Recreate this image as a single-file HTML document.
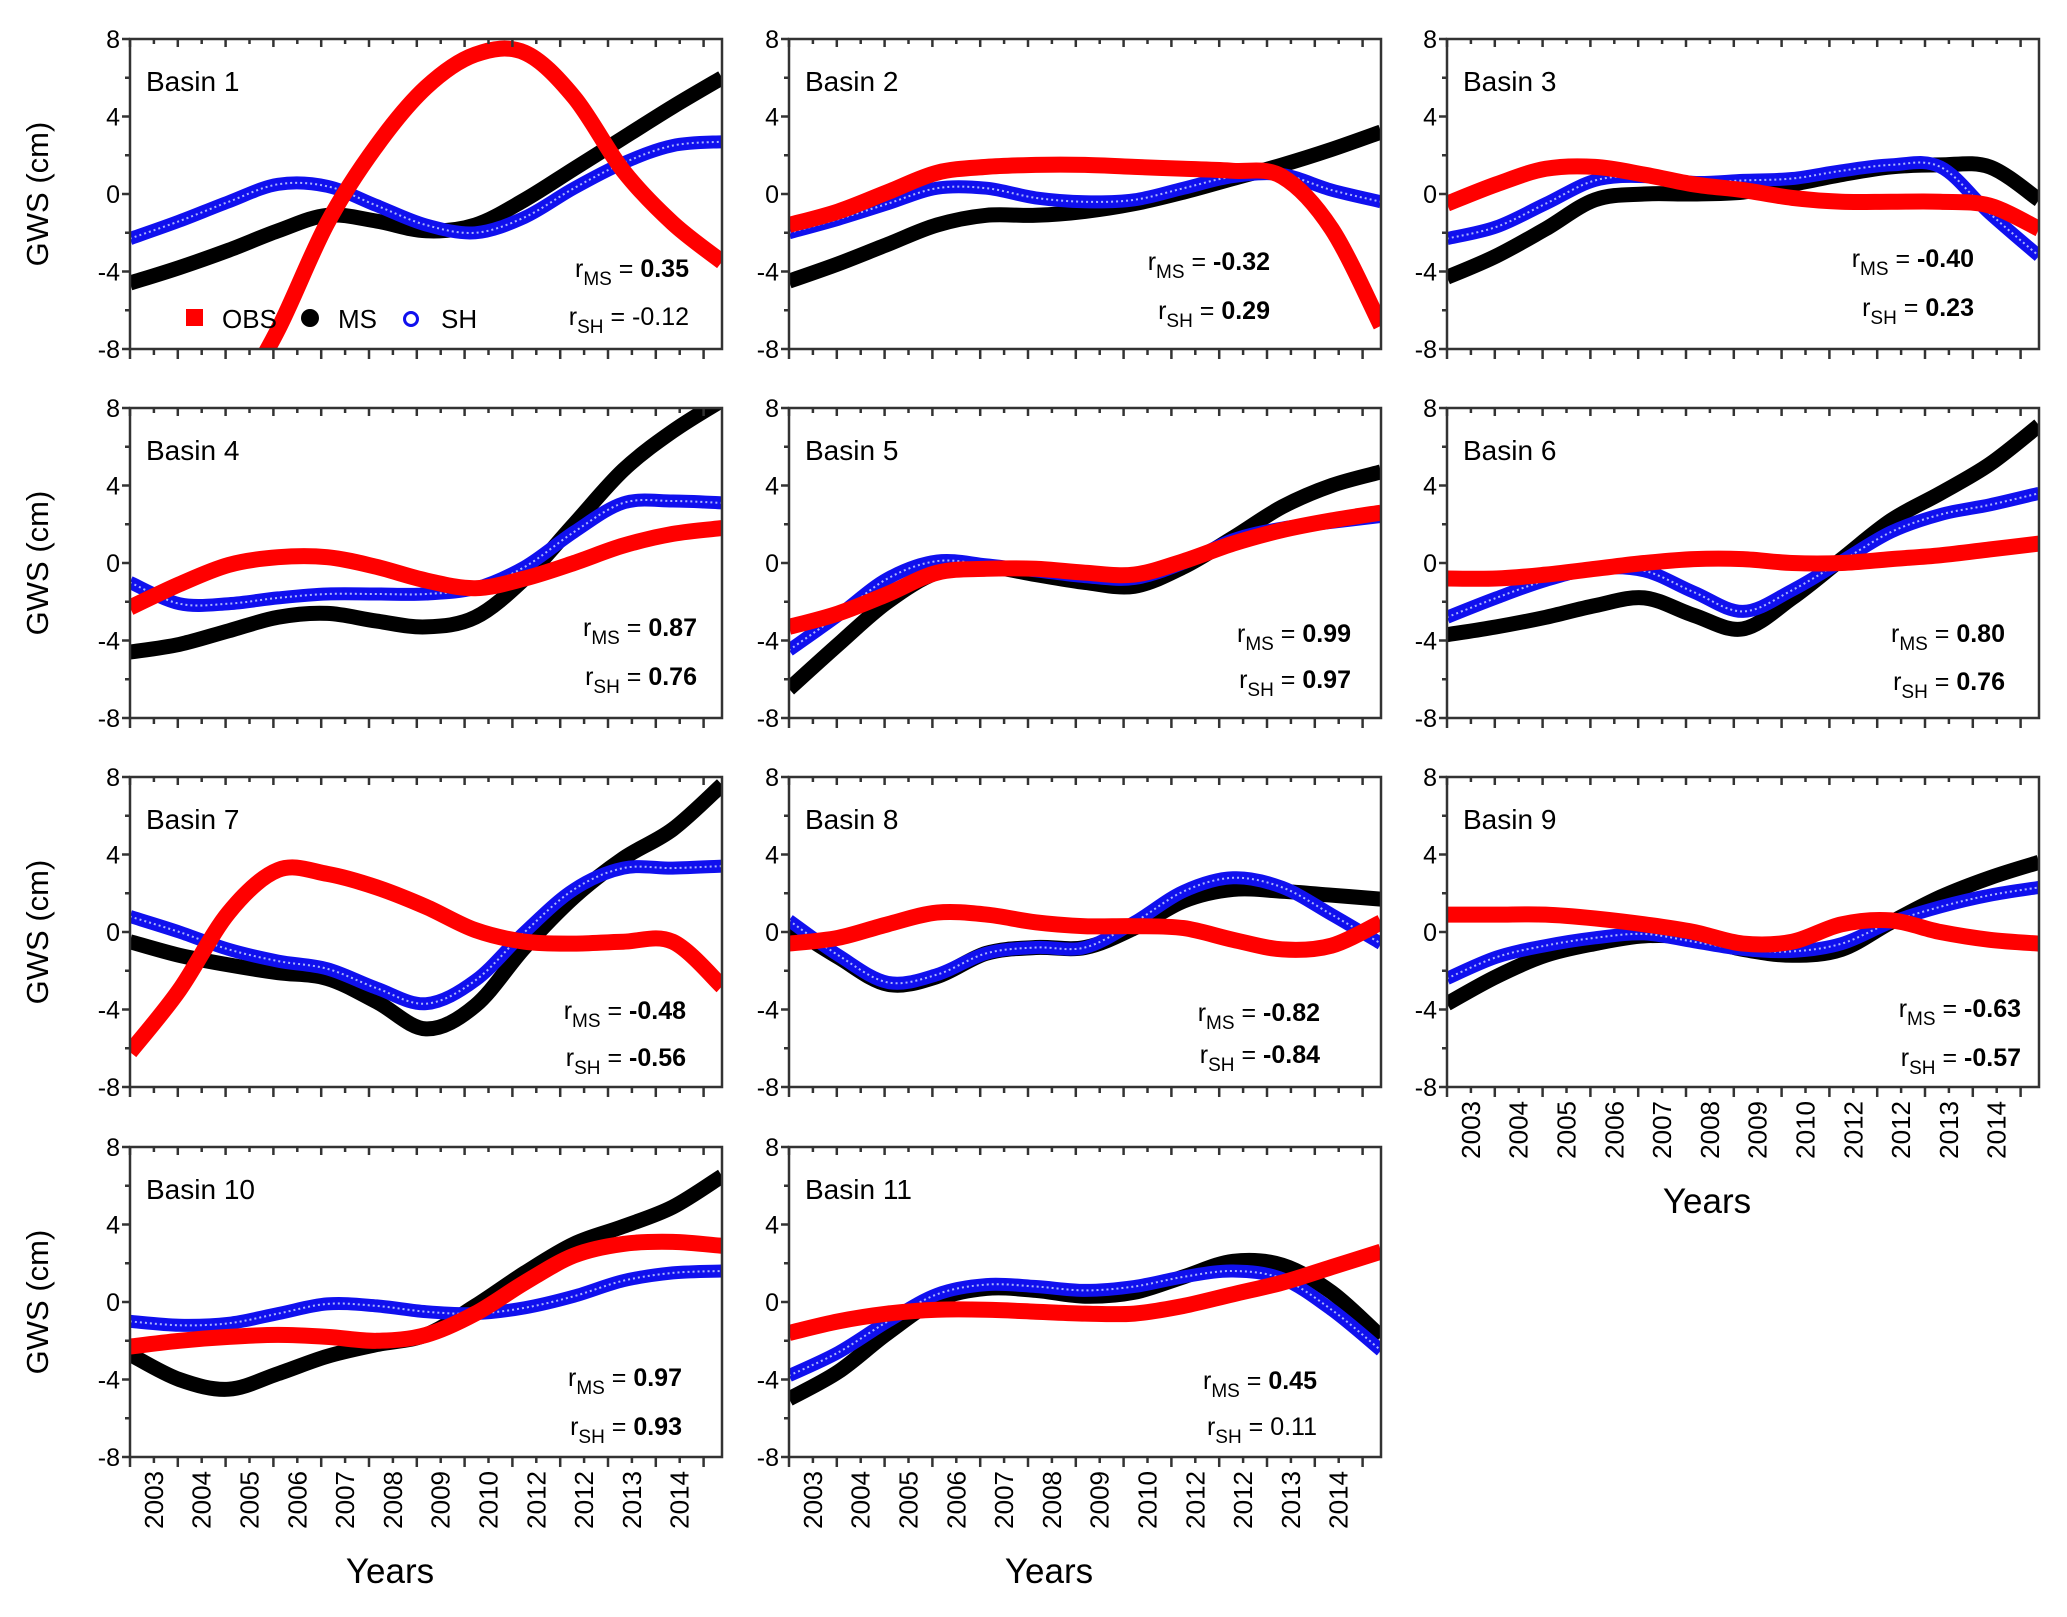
<!DOCTYPE html>
<html><head><meta charset="utf-8"><style>
html,body{margin:0;padding:0;background:#fff;}
svg{display:block;font-family:"Liberation Sans",Arial,sans-serif;}
</style></head><body>
<svg id="fig" width="2067" height="1617" viewBox="0 0 2067 1617" xmlns="http://www.w3.org/2000/svg"></svg>
<script>
const yearLabels=["2003","2004","2005","2006","2007","2008","2009","2010","2012","2012","2013","2014"];
const yTicks=[-8,-4,0,4,8];
const basinNames=["Basin 1","Basin 2","Basin 3","Basin 4","Basin 5","Basin 6","Basin 7","Basin 8","Basin 9","Basin 10","Basin 11"];
const msSeries=[
[-4.6,-3.8,-2.9,-1.9,-1.1,-1.4,-1.9,-1.6,-0.3,1.3,2.9,4.5,6.0],
[-4.5,-3.6,-2.6,-1.6,-1.1,-1.1,-0.9,-0.5,0.1,0.8,1.5,2.3,3.2],
[-4.3,-3.2,-1.8,-0.3,0,0,0.1,0.5,1.0,1.4,1.5,1.4,-0.3],
[-4.6,-4.2,-3.5,-2.8,-2.6,-3.0,-3.3,-2.8,-0.8,2.0,4.8,6.8,8.4],
[-6.5,-4.2,-2.0,-0.5,-0.2,-0.6,-1.0,-1.2,-0.2,1.3,2.9,4.0,4.7],
[-3.7,-3.3,-2.8,-2.2,-1.8,-2.7,-3.4,-1.8,0.2,2.2,3.6,5.1,7.1],
[-0.5,-1.2,-1.7,-2.1,-2.4,-3.6,-5.0,-3.8,-0.8,1.8,3.8,5.3,7.6],
[0.3,-1.3,-2.7,-2.3,-1.1,-0.8,-0.8,0.2,1.6,2.2,2.1,1.9,1.7],
[-3.7,-2.3,-1.2,-0.6,-0.2,-0.3,-0.9,-1.2,-0.9,0.5,1.8,2.8,3.6],
[-2.7,-4.0,-4.5,-3.7,-2.8,-2.2,-1.7,-0.2,1.5,3.0,3.9,4.9,6.5],
[-5.0,-3.6,-1.6,0.1,0.7,0.6,0.3,0.5,1.3,2.1,1.9,0.5,-1.8]];
const shSeries=[
[-2.3,-1.4,-0.4,0.5,0.4,-0.6,-1.6,-2.0,-1.2,0.3,1.6,2.5,2.7],
[-2.0,-1.3,-0.5,0.3,0.3,-0.2,-0.4,-0.3,0.3,0.9,1.0,0.2,-0.4],
[-2.3,-1.7,-0.5,0.7,0.9,0.6,0.7,0.8,1.2,1.5,1.4,-1.0,-3.2],
[-1.0,-2.1,-2.1,-1.8,-1.6,-1.6,-1.6,-1.3,-0.2,1.6,3.1,3.2,3.1],
[-4.5,-2.7,-0.8,0.1,-0.1,-0.4,-0.7,-0.8,0,1.2,1.8,2.1,2.4],
[-2.8,-1.8,-0.9,-0.3,-0.4,-1.5,-2.5,-1.4,0.1,1.6,2.5,3.0,3.6],
[0.8,0,-0.9,-1.5,-1.9,-2.9,-3.7,-2.5,0,2.2,3.3,3.3,3.4],
[0.6,-1.2,-2.6,-2.2,-1.1,-0.8,-0.8,0.5,2.1,2.8,2.3,0.9,-0.6],
[-2.4,-1.3,-0.7,-0.3,-0.1,-0.5,-0.9,-1.0,-0.6,0.5,1.3,1.9,2.3],
[-1.0,-1.2,-1.1,-0.6,-0.1,-0.2,-0.5,-0.6,-0.3,0.3,1.1,1.5,1.6],
[-3.8,-2.6,-1.0,0.4,0.9,0.8,0.6,0.8,1.3,1.6,1.2,-0.4,-2.5]];
const obsSeries=[
[-20,-16,-11.5,-7,-1.5,2.5,5.5,7.2,7.3,5.0,1.2,-1.5,-3.5],
[-1.6,-0.9,0.1,1.1,1.4,1.5,1.5,1.4,1.3,1.2,0.9,-1.8,-6.8],
[-0.5,0.5,1.3,1.4,1.0,0.5,0.2,-0.2,-0.4,-0.4,-0.4,-0.6,-1.8],
[-2.3,-1.1,-0.1,0.3,0.3,-0.2,-0.9,-1.3,-0.8,0,0.9,1.5,1.8],
[-3.3,-2.6,-1.6,-0.5,-0.3,-0.3,-0.5,-0.6,0.1,1.0,1.7,2.2,2.6],
[-0.8,-0.8,-0.6,-0.3,0,0.2,0.2,0,0,0.2,0.4,0.7,1.0],
[-6.2,-3.0,1.0,3.2,3.0,2.3,1.3,0.1,-0.5,-0.6,-0.5,-0.5,-2.8],
[-0.6,-0.3,0.4,1.0,0.9,0.5,0.3,0.3,0.2,-0.4,-0.9,-0.7,0.5],
[0.9,0.9,0.9,0.7,0.4,0,-0.6,-0.5,0.4,0.6,0,-0.4,-0.6],
[-2.3,-2.0,-1.8,-1.7,-1.8,-2.0,-1.7,-0.6,1.0,2.4,3.0,3.1,2.9],
[-1.6,-1.0,-0.6,-0.4,-0.4,-0.5,-0.6,-0.6,-0.2,0.4,1.0,1.8,2.6]];
const rMS=["0.35","-0.32","-0.40","0.87","0.99","0.80","-0.48","-0.82","-0.63","0.97","0.45"];
const rSH=["-0.12","0.29","0.23","0.76","0.97","0.76","-0.56","-0.84","-0.57","0.93","0.11"];
const rSHbold=[false,true,true,true,true,true,true,true,true,true,false];

const NS="http://www.w3.org/2000/svg";
const svg=document.getElementById('fig');
function mk(tag,attrs,parent){const e=document.createElementNS(NS,tag);for(const k in attrs)e.setAttribute(k,attrs[k]);(parent||svg).appendChild(e);return e;}
const colL=[130,789,1447], PW=592, PH=310, rowT=[39,408,777,1147];
const rText=[[33,268,316],[111,261,310],[65,258,307],[25,627,676],[30,633,679],[34,633,681],[36,1010,1057],[61,1012,1054],[18,1008,1057],[40,1377,1426],[64,1380,1426]];
function smoothPath(pts){let d="M"+pts[0][0].toFixed(1)+","+pts[0][1].toFixed(1);
 for(let i=0;i<pts.length-1;i++){const p0=pts[Math.max(0,i-1)],p1=pts[i],p2=pts[i+1],p3=pts[Math.min(pts.length-1,i+2)];
  const c1=[p1[0]+(p2[0]-p0[0])/6,p1[1]+(p2[1]-p0[1])/6],c2=[p2[0]-(p3[0]-p1[0])/6,p2[1]-(p3[1]-p1[1])/6];
  d+=" C"+c1[0].toFixed(1)+","+c1[1].toFixed(1)+" "+c2[0].toFixed(1)+","+c2[1].toFixed(1)+" "+p2[0].toFixed(1)+","+p2[1].toFixed(1);}
 return d;}
const defs=mk('defs',{});
for(let p=0;p<11;p++){
 const row=Math.floor(p/3),col=p%3;const L=colL[col],T=rowT[row],R=L+PW,B=T+PH;
 const g=mk('g',{});
 
 
 const cp=mk('clipPath',{id:'c'+p},defs);mk('rect',{x:L,y:T,width:PW,height:PH},cp);
 const xS=i=>L+i/12*PW, yS=v=>T+(8-v)/16*PH;
 const lines=mk('g',{'clip-path':'url(#c'+p+')'},g);
 const mkPts=a=>a.map((v,i)=>[xS(i),yS(v)]);
 const ms=mk('path',{d:smoothPath(mkPts(msSeries[p])),fill:'none',stroke:'#000','stroke-width':15},lines);
 
 
 const sh=mk('path',{d:smoothPath(mkPts(shSeries[p])),fill:'none',stroke:'#1010ee','stroke-width':13},lines);
 
 
 mk('path',{d:smoothPath(mkPts(shSeries[p])),fill:'none',stroke:'#aab4ff','stroke-width':2,'stroke-dasharray':'2 3'},lines);
 const ob=mk('path',{d:smoothPath(mkPts(obsSeries[p])),fill:'none',stroke:'#ff0000','stroke-width':16},lines);
 
 
 mk('rect',{x:L,y:T,width:PW,height:PH,fill:'none',stroke:'#333','stroke-width':2.5},g);
 const step=47.8;
 for(let k=0;k<=24;k++){const x=L+k*step/2;if(x>R-2)break;const maj=k%2==0;
  mk('line',{x1:x,x2:x,y1:T,y2:T+(maj?8:5),stroke:'#333','stroke-width':2.5},g);
  mk('line',{x1:x,x2:x,y1:B,y2:B+(maj?10:6),stroke:'#333','stroke-width':2.5},g);}
 for(let v=-8;v<=8;v+=2){const y=yS(v);const maj=v%4==0;
  mk('line',{x1:L,x2:L-(maj?8:5),y1:y,y2:y,stroke:'#333','stroke-width':2.5},g);}
 yTicks.forEach(v=>{const t=mk('text',{x:L-10,y:yS(v)+9,'text-anchor':'end','font-size':25},g);t.textContent=String(v);
  
  });
 const bt=mk('text',{x:L+16,y:T+52,'font-size':28},g);bt.textContent=basinNames[p];
 
 
 const rt=rText[p];const rx=R-rt[0];
 const t1=mk('text',{x:rx,y:rt[1]+9,'text-anchor':'end','font-size':25},g);
 t1.innerHTML='r<tspan font-size="19" dy="8">MS</tspan><tspan dy="-8"> = </tspan><tspan font-weight="bold">'+rMS[p]+'</tspan>';
 
 
 const t2=mk('text',{x:rx,y:rt[2]+9,'text-anchor':'end','font-size':25},g);
 t2.innerHTML='r<tspan font-size="19" dy="8">SH</tspan><tspan dy="-8"> = </tspan><tspan'+(rSHbold[p]?' font-weight="bold"':'')+'>'+rSH[p]+'</tspan>';
 
 
 if(col==0){const yl=mk('text',{x:0,y:0,'text-anchor':'middle','font-size':31,transform:'translate(48,'+(T+PH/2)+') rotate(-90)'},g);yl.textContent='GWS (cm)';
  
  }
 if(p>=8){
  yearLabels.forEach((lab,i)=>{const x=L+(i+0.5)*step;const t=mk('text',{x:0,y:0,'text-anchor':'end','font-size':26,transform:'translate('+(x+9)+','+(B+14)+') rotate(-90)'},g);t.textContent=lab;
   
   });
  const xt=mk('text',{x:L+PW/2-36,y:B+126,'text-anchor':'middle','font-size':35},g);xt.textContent='Years';
  
  
 }
}
const lg=mk('g',{});


mk('rect',{x:186,y:309,width:17,height:17,fill:'#ff0000'},lg);
let lt=mk('text',{x:222,y:328,'font-size':26},lg);lt.textContent='OBS';
mk('circle',{cx:310,cy:318,r:9,fill:'#000'},lg);
lt=mk('text',{x:338,y:328,'font-size':26},lg);lt.textContent='MS';
mk('circle',{cx:411,cy:319,r:6.5,fill:'none',stroke:'#1010ee','stroke-width':3},lg);
lt=mk('text',{x:441,y:328,'font-size':26},lg);lt.textContent='SH';
</script>
</body></html>
